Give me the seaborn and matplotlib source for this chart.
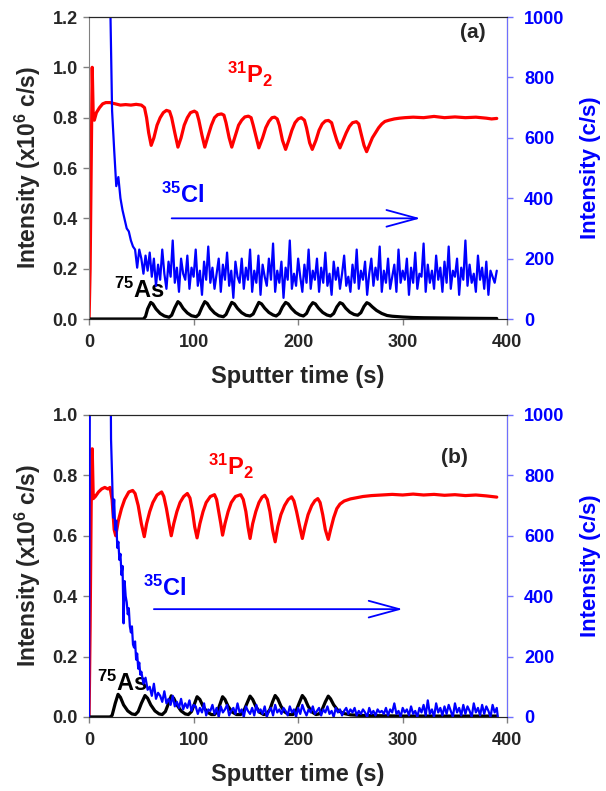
import numpy as np
import pandas as pd
import seaborn as sns
import matplotlib.pyplot as plt

# ---------------- data ----------------
# panel (a) : 31P2 (left axis, x10^6 c/s)
p2a_t = [0, 1, 2, 3, 4, 5, 7, 10, 13, 16, 20, 25, 30, 35, 40, 45, 50, 53, 55, 57,
         59.4, 62, 65, 68, 71, 74, 77, 79, 82, 85, 88, 91, 94, 97, 100.7, 103, 105, 108,
         110.7, 114, 117, 120, 123, 126.6, 129, 131, 134, 136.5, 140, 143, 146, 149,
         152.4, 155, 157, 160, 162.4, 166, 169, 172, 175, 177.5, 180, 182, 185, 188,
         191, 194, 197, 200, 203, 206, 208, 211, 213.5, 217, 220, 223, 226, 229, 232,
         234, 237, 240, 243, 246, 249, 252, 255.7, 258, 260, 263, 265.5, 268, 271, 274,
         277, 280, 283, 287, 292, 297, 302, 310, 320, 330, 340, 350, 360, 370, 380, 385, 390]
p2a_v = [0.0, 0.20, 0.60, 1.00, 0.80, 0.79, 0.82, 0.84, 0.855, 0.86, 0.86, 0.855, 0.85,
         0.852, 0.85, 0.853, 0.85, 0.84, 0.80, 0.74,
         0.69, 0.72, 0.77, 0.80, 0.82, 0.829, 0.825, 0.80, 0.74, 0.683, 0.72, 0.77, 0.80,
         0.82, 0.826, 0.82, 0.79, 0.73,
         0.683, 0.73, 0.77, 0.80, 0.812, 0.815, 0.81, 0.78, 0.72, 0.683, 0.73, 0.77, 0.79,
         0.803, 0.806, 0.80, 0.77, 0.72, 0.68, 0.72, 0.76, 0.785, 0.80, 0.802, 0.795, 0.77,
         0.71, 0.674, 0.71, 0.75, 0.78, 0.795, 0.80, 0.79, 0.76, 0.70, 0.674, 0.71, 0.75,
         0.775, 0.787, 0.789, 0.78, 0.75, 0.71, 0.68, 0.71, 0.74, 0.765, 0.78, 0.784, 0.775,
         0.74, 0.69, 0.665, 0.69, 0.72, 0.74, 0.76, 0.775, 0.785, 0.79, 0.795, 0.798, 0.80,
         0.802, 0.80, 0.805, 0.80, 0.803, 0.80, 0.802, 0.798, 0.795, 0.797]

# panel (a) : 75As (left axis)
asa_t = [0, 52, 54, 56, 59, 61, 64, 68, 72, 76.5, 79, 82, 85, 87, 90, 94, 98, 102.5, 105,
         108, 110.7, 113, 116, 120, 124, 128.4, 131, 134, 136.5, 139, 142, 146, 150, 154,
         157, 160, 162.4, 165, 168, 172, 176, 179, 182, 185, 188, 190.5, 193.5, 197.5,
         201.5, 205, 208, 211, 214, 216.5, 219.5, 223.5, 227.5, 231, 234, 237, 240, 242.5,
         245.5, 249.5, 253.5, 257, 260, 263, 265.7, 268, 271, 275, 280, 285, 290, 300,
         310, 320, 340, 360, 390]
asa_v = [0, 0, 0.01, 0.04, 0.066, 0.06, 0.04, 0.022, 0.012, 0.007, 0.015, 0.045, 0.069,
         0.062, 0.042, 0.024, 0.013, 0.009, 0.018, 0.047, 0.069, 0.062, 0.042, 0.024, 0.013,
         0.009, 0.018, 0.045, 0.066, 0.06, 0.042, 0.025, 0.015, 0.012, 0.02, 0.046, 0.066,
         0.06, 0.043, 0.026, 0.016, 0.012, 0.022, 0.048, 0.066, 0.06, 0.043, 0.026, 0.016,
         0.012, 0.022, 0.048, 0.065, 0.06, 0.043, 0.026, 0.016, 0.012, 0.022, 0.048, 0.065,
         0.06, 0.043, 0.027, 0.018, 0.015, 0.025, 0.05, 0.065, 0.06, 0.048, 0.034, 0.022,
         0.014, 0.011, 0.008, 0.006, 0.005, 0.004, 0.003, 0.002]

# panel (a) : 35Cl (right axis, c/s)
cla_t = [20, 22, 24, 26, 28, 30, 32, 34, 36, 38, 40, 42, 44, 46, 48, 50, 52, 54, 56, 58, 60] \
    + list(range(62, 391, 2))
cla_v = [1100, 690, 560, 440, 470, 400, 360, 330, 300, 290, 260, 240, 230, 170, 230, 200,
         150, 210, 160, 220, 140,
         200, 110, 180, 130, 230, 150, 100, 190, 140, 260, 120, 170, 90, 200, 150,
         130, 210, 100, 170, 140, 230, 110, 160, 80, 190, 130, 240, 120, 170, 100,
         150, 200, 90, 180, 130, 220, 110, 160, 70, 190, 140, 120, 200, 100, 170,
         130, 230, 90, 160, 120, 210, 80, 180, 140, 110, 200, 130, 250, 90, 160,
         120, 190, 70, 170, 130, 260, 100, 150, 110, 200, 140, 90, 180, 120, 230,
         100, 160, 130, 200, 90, 170, 120, 220, 110, 150, 80, 190, 130, 170, 100,
         150, 210, 110, 140, 90, 180, 120, 230, 100, 160, 130, 190, 80, 150, 200,
         110, 170, 130, 240, 90, 160, 120, 200, 100, 140, 180, 90, 230, 120, 160,
         130, 200, 80, 170, 120, 220, 100, 150, 140, 250, 90, 180, 120, 160, 100,
         210, 130, 170, 90, 190, 120, 240, 100, 160, 140, 200, 80, 170, 130, 260,
         110, 180, 120, 150, 90, 210, 130, 170, 100, 190, 80, 160, 140, 120, 160]

# panel (b) : 31P2
p2b_t = [0, 1, 2, 3, 4, 6, 9, 12, 15, 18, 20, 22, 24, 25.5, 28, 31, 34, 38, 41.7, 44, 47,
         50, 52.8, 55, 58, 61, 65, 69.4, 71.5, 74, 76.5, 78.6, 81, 84, 87, 90.5, 94, 96.5,
         99, 101, 103.3, 106, 109, 112, 116, 120, 122, 124, 126, 127.7, 130, 133, 136, 140,
         145, 147.5, 150, 152, 154, 156.5, 159.5, 162.5, 165.5, 168, 170.5, 173, 175.5,
         178, 180.5, 183.5, 187, 190.5, 193.7, 196, 198.5, 201.5, 204, 206.5, 209.5, 213,
         216, 218.8, 221, 223.5, 226, 228.8, 231, 234, 237, 240, 244, 250, 256, 262, 270,
         280, 290, 300, 310, 320, 330, 340, 350, 360, 370, 380, 390]
p2b_v = [0, 0.3, 0.7, 0.888, 0.723, 0.73, 0.745, 0.755, 0.76, 0.755, 0.76, 0.72, 0.62,
         0.60, 0.65, 0.69, 0.72, 0.745, 0.75, 0.74, 0.70, 0.64, 0.597, 0.64, 0.68, 0.71,
         0.735, 0.745, 0.73, 0.69, 0.64, 0.60, 0.64, 0.68, 0.71, 0.73, 0.74, 0.725, 0.68,
         0.63, 0.593, 0.64, 0.68, 0.71, 0.73, 0.736, 0.72, 0.68, 0.64, 0.602, 0.64, 0.68,
         0.71, 0.73, 0.736, 0.72, 0.68, 0.63, 0.591, 0.64, 0.68, 0.71, 0.728, 0.734, 0.72,
         0.68, 0.62, 0.58, 0.63, 0.67, 0.70, 0.72, 0.729, 0.715, 0.68, 0.63, 0.591, 0.63,
         0.67, 0.70, 0.716, 0.723, 0.71, 0.67, 0.62, 0.588, 0.62, 0.66, 0.69, 0.705, 0.715,
         0.722, 0.726, 0.73, 0.733, 0.735, 0.737, 0.735, 0.738, 0.735, 0.737, 0.734, 0.736,
         0.733, 0.735, 0.732, 0.728]

# panel (b) : 75As
asb_t = [0, 20, 22, 25, 27.7, 30, 33, 37, 41, 44.3, 47, 50, 53.5, 56, 59, 63, 67, 70, 73,
         76, 78.6, 81, 84, 88, 92, 95, 98, 101, 103.3, 106, 109, 113, 117, 120, 123, 125.5,
         127.7, 130, 133, 137, 141, 145, 148, 151, 154, 156.5, 159.5, 163, 167, 170, 173,
         175.5, 178, 180.5, 183.5, 187, 191, 195, 198, 201, 204, 206.5, 209.5, 213, 217,
         220, 223, 226, 228.8, 231, 234, 238, 243, 250, 260, 280, 300, 330, 360, 390]
asb_v = [0, 0, 0.005, 0.045, 0.075, 0.065, 0.04, 0.02, 0.01, 0.008, 0.018, 0.045, 0.071,
         0.062, 0.04, 0.02, 0.01, 0.008, 0.018, 0.045, 0.07, 0.062, 0.04, 0.02, 0.01, 0.008,
         0.018, 0.045, 0.067, 0.058, 0.035, 0.016, 0.008, 0.008, 0.02, 0.045, 0.067, 0.058,
         0.035, 0.016, 0.008, 0.008, 0.02, 0.045, 0.069, 0.058, 0.035, 0.016, 0.008, 0.01,
         0.025, 0.05, 0.071, 0.06, 0.036, 0.017, 0.008, 0.008, 0.02, 0.046, 0.071, 0.06,
         0.036, 0.017, 0.008, 0.01, 0.025, 0.05, 0.069, 0.06, 0.04, 0.022, 0.012, 0.007,
         0.005, 0.004, 0.003, 0.003, 0.003, 0.003]

# panel (b) : 35Cl
clb_t = [0, 1, 20] + list(range(21, 51)) + list(range(52, 391, 2)) + [391]
clb_v = [0, 1500, 1500,
         920, 800, 660, 720, 620, 650, 560, 580, 520, 540, 470, 500, 310, 450, 400, 380,
         340, 360, 300, 280, 300, 240, 230, 250, 190, 210, 160, 180, 140, 150,
         110, 130, 90, 100, 70, 110, 60, 80, 70, 50, 85, 45, 60, 40, 70, 35, 50, 30, 60,
         25, 45, 30, 55, 20, 40,
         35, 10, 30, 15, 45, 5, 25, 20, 40, 10, 30, 0, 35, 15, 25,
         40, 5, 20, 30, 10, 45, 15, 25, 0, 35, 20, 10, 30, 5, 40,
         15, 25, 10, 35, 0, 20, 30, 5, 40, 15, 25, 10, 30, 20, 5,
         35, 15, 25, 0, 30, 10, 40, 20, 5, 25, 15, 35, 10, 20, 30,
         5, 25, 15, 35, 10, 20, 0, 30, 15, 25, 5, 20, 30, 10, 25,
         15, 30, 5, 20, 10, 25, 15, 0, 30, 10, 20, 5, 25, 15, 20,
         10, 30, 5, 25, 15, 45, 10, 20, 0, 30, 15, 25, 5, 35, 10,
         20, 0, 30, 15, 40, 5, 55, 10, 25, 0, 45, 15, 30, 5, 35,
         10, 40, 20, 0, 45, 15, 30, 5, 40, 10, 35, 20, 0, 45, 15,
         30, 5, 40, 10, 35, 20, 0, 40, 15, 30,
         0]

# ---------------- style ----------------
sns.set_style("ticks")
plt.rcParams["font.family"] = ["Liberation Sans", "DejaVu Sans"]
plt.rcParams["font.weight"] = "bold"
plt.rcParams["axes.labelweight"] = "bold"
plt.rcParams["mathtext.fontset"] = "custom"
plt.rcParams["mathtext.rm"] = "Liberation Sans:bold"
plt.rcParams["mathtext.bf"] = "Liberation Sans:bold"
plt.rcParams["mathtext.default"] = "bf"

RED, BLUE, GRAY = "#ff0000", "#0000ff", "#808080"

fig = plt.figure(figsize=(6.06, 7.91), dpi=100)


def panel(rect, p2t, p2v, ast, asv, clt, clv, ymax, tag, tagxy, p2xy, clxy, arr, asxy):
    ax = fig.add_axes(rect)
    ax2 = ax.twinx()

    sns.lineplot(x=p2t, y=p2v, ax=ax, color=RED, lw=2.3, sort=False, estimator=None)
    sns.lineplot(x=ast, y=asv, ax=ax, color="black", lw=2.3, sort=False, estimator=None)
    sns.lineplot(x=clt, y=clv, ax=ax2, color=BLUE, lw=1.6, sort=False, estimator=None)

    ax.set_xlim(0, 400)
    ax.set_ylim(0, ymax)
    ax2.set_ylim(0, 1000)
    ax.set_xticks([0, 100, 200, 300, 400])
    ax.set_yticks(np.arange(0, ymax + 0.01, 0.2))
    ax.set_yticklabels([f"{v:.1f}" for v in np.arange(0, ymax + 0.01, 0.2)])
    ax2.set_yticks([0, 200, 400, 600, 800, 1000])

    ax.tick_params(labelsize=13, length=4, width=1, color=GRAY)
    ax.tick_params(axis="x", pad=7)
    ax.tick_params(axis="y", pad=4)
    ax2.tick_params(labelsize=13, length=4, width=1, color="#6f6fff",
                    labelcolor=BLUE, pad=8)

    for s in ["left", "bottom"]:
        ax.spines[s].set_color(GRAY)
    ax.spines["top"].set_color("black")
    ax2.spines["right"].set_color("#6f6fff")
    ax2.spines["left"].set_visible(False)

    ax.set_xlabel("Sputter time (s)", fontsize=17, labelpad=10)
    ax.set_ylabel("Intensity (x10$^{6}$ c/s)", fontsize=16.5, labelpad=7)
    ax2.set_ylabel("Intensity (c/s)", fontsize=16, color=BLUE, labelpad=11)

    ax.text(*tagxy, tag, fontsize=15, ha="left", va="center")
    ax.text(*p2xy, "$^{31}$P$_{2}$", fontsize=17, color=RED, ha="left", va="center")
    ax.text(*clxy, "$^{35}$Cl", fontsize=17, color=BLUE, ha="left", va="center")
    ax.text(*asxy, "$^{75}$As", fontsize=17, color="black", ha="left", va="center")
    ax.annotate("", xy=(arr[1], arr[2]), xytext=(arr[0], arr[2]),
                arrowprops=dict(arrowstyle="->,head_length=1.1,head_width=0.3",
                                color=BLUE, lw=1.3, mutation_scale=20,
                                shrinkA=0, shrinkB=0))
    return ax


panel([0.147, 0.5967, 0.69, 0.3818], p2a_t, p2a_v, asa_t, asa_v, cla_t, cla_v, 1.2,
      "(a)", (355, 1.14), (132, 0.97), (69, 0.49), (79, 317, 0.40), (24, 0.115))
panel([0.147, 0.0936, 0.69, 0.3818], p2b_t, p2b_v, asb_t, asb_v, clb_t, clb_v, 1.0,
      "(b)", (337, 0.86), (114, 0.83), (52, 0.425), (62, 300, 0.357), (7.5, 0.113))

plt.savefig("out.png", dpi=100)
plt.close()
